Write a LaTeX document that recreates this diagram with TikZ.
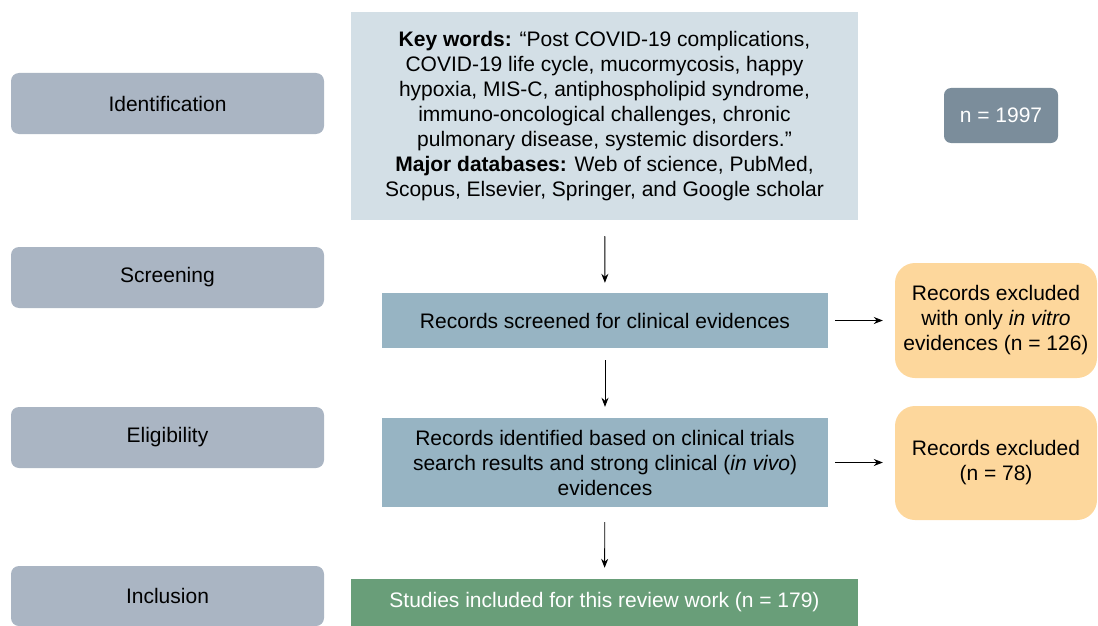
\documentclass[tikz,border=0pt]{standalone}
\usepackage{fontspec}
\setmainfont{Liberation Sans}
\usepackage{tikz}
\usetikzlibrary{shapes,arrows.meta,positioning}
\definecolor{stage}{HTML}{AAB5C3}
\definecolor{search}{HTML}{D3DFE6}
\definecolor{count}{HTML}{7B8D9B}
\definecolor{record}{HTML}{97B4C3}
\definecolor{excl}{HTML}{FDD79C}
\definecolor{incl}{HTML}{699E79}

\begin{document}
\begin{tikzpicture}[x=1pt, y=-1pt,
        every node/.style={font=\fontsize{21}{25}\selectfont, align=center, inner sep=0pt},
        stage/.style={rectangle, rounded corners=8pt, fill=stage, minimum width=313pt, minimum height=61pt},
        record/.style={rectangle, fill=record, minimum width=446pt},
        excluded/.style={rectangle, rounded corners=20pt, fill=excl, minimum width=202pt},
        arrow/.style={-{Stealth[length=9pt, width=7pt]}, line width=0.9pt}
    ]
        \useasboundingbox (0,0) rectangle (1098,626);

        % phases on the left
        \node[stage] (id) at (167.5,103.5) {Identification};
        \node[stage] (sc) at (167.5,277.5) {Screening};
        \node[stage] (el) at (167.5,437.5) {Eligibility};
        \node[stage, minimum height=60pt] (in) at (167.5,596) {Inclusion};

        % main flow
        \node[rectangle, fill=search, minimum width=507pt, minimum height=208pt] (keys) at (604.5,116)
            {\textbf{Key words:} “Post COVID-19 complications,\\
             COVID-19 life cycle, mucormycosis, happy\\
             hypoxia, MIS-C, antiphospholipid syndrome,\\
             immuno-oncological challenges, chronic\\
             pulmonary disease, systemic disorders.”\\
             \textbf{Major databases:} Web of science, PubMed,\\
             Scopus, Elsevier, Springer, and Google scholar};
        \node[rectangle, rounded corners=7pt, fill=count, text=white, minimum width=114pt, minimum height=55pt] (total) at (1001,115.5) {n = 1997};
        \node[record, minimum height=55pt] (screened) at (605,320.5) {Records screened for clinical evidences};
        \node[record, minimum height=89pt] (trials) at (605,462.5)
            {Records identified based on clinical trials\\
             search results and strong clinical (\textit{in vivo})\\
             evidences};
        \node[rectangle, fill=incl, text=white, minimum width=507pt, minimum height=47pt] (studies) at (604.5,602.5)
            {Studies included for this review work (n = 179)};

        % exclusions
        \node[excluded, minimum height=115pt] (vitro) at (996,320.5)
            {Records excluded\\ with only \textit{in vitro}\\ evidences (n = 126)};
        \node[excluded, minimum height=114pt] (ex78) at (996,463)
            {Records excluded\\ (n = 78)};

        \draw[arrow, shorten <=16pt, shorten >=10pt] (keys) -- (screened);
        \draw[arrow, shorten <=12pt, shorten >=11pt] (screened) -- (trials);
        \draw[arrow, shorten <=15pt, shorten >=11pt] (trials) -- (studies);
        \draw[arrow, shorten <=7pt, shorten >=12pt] (screened) -- (vitro);
        \draw[arrow, shorten <=7pt, shorten >=12pt] (trials.east) -- (ex78.west |- trials.east);
    \end{tikzpicture}
\end{document}
